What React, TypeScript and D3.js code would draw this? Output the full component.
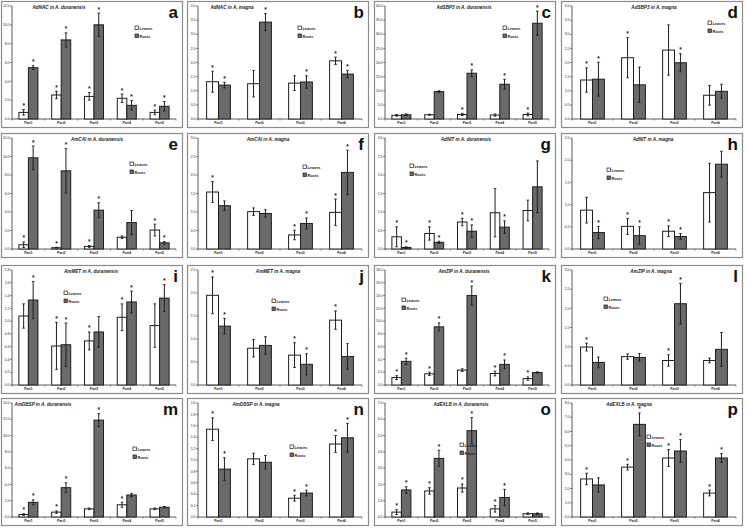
import React from "react";
import * as d3 from "d3";

const partsDur = ["Part1", "Part2", "Part3", "Part4", "Part5"];
const partsMag = ["Part1", "Part2", "Part3", "Part4"];
const seriesNames = ["Leaves", "Roots"];

const genes = ["AdNAC", "AdNAC", "AdSBP3", "AdSBP3", "AmCAI", "AmCAI", "AdNIT", "AdNIT", "AmMET", "AmMET", "AmZIP", "AmZIP", "AmDBSP", "AmDBSP", "AdEXLB", "AdEXLB"];
const species = ["A. duranensis", "A. magna"];
const letters = ["a", "b", "c", "d", "e", "f", "g", "h", "i", "j", "k", "l", "m", "n", "o", "p"];

const yMaxes = [12, 4, 40, 4, 12, 3, 3, 2.5, 1.8, 2.5, 18, 3, 14, 2, 7, 8];
const ySteps = [2, 0.5, 5, 0.5, 2, 0.5, 0.5, 0.5, 0.2, 0.5, 2, 0.5, 2, 0.2, 1, 1];

const leavesA = [0.7, 2.55, 2.4, 2.2, 0.7];
const leavesErrA = [0.3, 0.4, 0.4, 0.45, 0.25];
const rootsA = [5.45, 8.4, 10.0, 1.45, 1.35];
const rootsErrA = [0.2, 0.75, 1.25, 0.5, 0.5];
const starsLA = [1, 1, 1, 1, 1];
const starsRA = [1, 1, 1, 1, 1];

const leavesB = [1.32, 1.25, 1.27, 2.06];
const leavesErrB = [0.37, 0.47, 0.26, 0.13];
const rootsB = [1.2, 3.43, 1.31, 1.59];
const rootsErrB = [0.1, 0.3, 0.22, 0.13];
const starsLB = [1, 0, 0, 1];
const starsRB = [1, 1, 1, 1];

const leavesC = [1.3, 1.5, 1.6, 1.4, 1.6];
const leavesErrC = [0.3, 0.2, 0.4, 0.4, 0.5];
const rootsC = [1.5, 9.7, 16.2, 12.3, 33.9];
const rootsErrC = [0.3, 0.3, 1.2, 1.75, 4.3];
const starsLC = [0, 0, 1, 0, 1];
const starsRC = [0, 0, 1, 1, 1];

const leavesD = [1.38, 2.17, 2.44, 0.84];
const leavesErrD = [0.43, 0.71, 0.89, 0.35];
const rootsD = [1.41, 1.21, 1.99, 0.98];
const rootsErrD = [0.6, 0.63, 0.32, 0.25];
const starsLD = [1, 1, 0, 0];
const starsRD = [1, 0, 1, 0];

const leavesE = [0.46, 0.14, 0.28, 1.27, 2.05];
const leavesErrE = [0.3, 0.05, 0.1, 0.14, 0.64];
const rootsE = [9.86, 8.45, 4.2, 2.86, 0.67];
const rootsErrE = [1.27, 2.4, 0.8, 1.3, 0.14];
const starsLE = [1, 1, 1, 0, 1];
const starsRE = [1, 1, 1, 0, 1];

const leavesF = [1.54, 1.01, 0.38, 0.99];
const leavesErrF = [0.28, 0.1, 0.13, 0.36];
const rootsF = [1.17, 0.96, 0.69, 2.07];
const rootsErrF = [0.13, 0.1, 0.15, 0.6];
const starsLF = [1, 0, 1, 1];
const starsRF = [0, 0, 1, 1];

const leavesG = [0.33, 0.42, 0.73, 0.98, 1.04];
const leavesErrG = [0.27, 0.18, 0.1, 0.65, 0.28];
const rootsG = [0.04, 0.18, 0.48, 0.59, 1.68];
const rootsErrG = [0.02, 0.03, 0.17, 0.17, 0.7];
const starsLG = [1, 1, 1, 0, 0];
const starsRG = [1, 1, 1, 1, 0];

const leavesH = [0.875, 0.51, 0.4, 1.27];
const leavesErrH = [0.29, 0.18, 0.12, 0.66];
const rootsH = [0.37, 0.3, 0.28, 1.91];
const rootsErrH = [0.14, 0.2, 0.07, 0.29];
const starsLH = [0, 1, 1, 0];
const starsRH = [1, 1, 1, 0];

const leavesI = [1.08, 0.61, 0.69, 1.06, 0.93];
const leavesErrI = [0.19, 0.37, 0.14, 0.21, 0.34];
const rootsI = [1.33, 0.63, 0.83, 1.3, 1.36];
const rootsErrI = [0.29, 0.34, 0.24, 0.17, 0.21];
const starsLI = [0, 1, 1, 1, 0];
const starsRI = [1, 1, 0, 1, 1];

const leavesJ = [1.95, 0.8, 0.65, 1.41];
const leavesErrJ = [0.4, 0.19, 0.27, 0.2];
const rootsJ = [1.28, 0.86, 0.45, 0.62];
const rootsErrJ = [0.17, 0.19, 0.23, 0.28];
const starsLJ = [1, 0, 1, 1];
const starsRJ = [1, 0, 1, 0];

const leavesK = [1.16, 1.75, 2.33, 1.8, 1.0];
const leavesErrK = [0.3, 0.26, 0.2, 0.37, 0.26];
const rootsK = [3.7, 9.1, 14.0, 3.23, 1.96];
const rootsErrK = [0.48, 0.63, 1.48, 0.69, 0.1];
const starsLK = [1, 1, 0, 1, 1];
const starsRK = [1, 1, 1, 1, 0];

const leavesL = [0.99, 0.74, 0.64, 0.64];
const leavesErrL = [0.1, 0.07, 0.15, 0.06];
const rootsL = [0.59, 0.72, 2.12, 0.93];
const rootsErrL = [0.14, 0.1, 0.53, 0.44];
const starsLL = [1, 0, 1, 0];
const starsRL = [0, 0, 1, 0];

const leavesM = [0.3, 0.6, 1.0, 1.5, 1.0];
const leavesErrM = [0.1, 0.15, 0.1, 0.3, 0.1];
const rootsM = [1.8, 3.6, 11.9, 2.7, 1.2];
const rootsErrM = [0.3, 0.6, 0.8, 0.2, 0.1];
const starsLM = [1, 1, 0, 1, 0];
const starsRM = [1, 1, 1, 0, 0];

const leavesN = [1.54, 1.02, 0.33, 1.28];
const leavesErrN = [0.2, 0.1, 0.05, 0.15];
const rootsN = [0.84, 0.96, 0.42, 1.39];
const rootsErrN = [0.2, 0.12, 0.05, 0.25];
const starsLN = [1, 0, 1, 1];
const starsRN = [1, 0, 1, 1];

const leavesO = [0.3, 1.6, 1.78, 0.5, 0.2];
const leavesErrO = [0.15, 0.2, 0.25, 0.2, 0.05];
const rootsO = [1.66, 3.6, 5.3, 1.2, 0.2];
const rootsErrO = [0.2, 0.5, 0.8, 0.5, 0.05];
const starsLO = [1, 1, 1, 1, 0];
const starsRO = [1, 1, 1, 1, 0];

const leavesP = [2.67, 3.5, 4.14, 1.68];
const leavesErrP = [0.4, 0.2, 0.6, 0.2];
const rootsP = [2.25, 6.5, 4.63, 4.14];
const rootsErrP = [0.5, 0.8, 0.8, 0.3];
const starsLP = [1, 1, 1, 1];
const starsRP = [0, 1, 1, 1];

const allLeaves = [leavesA, leavesB, leavesC, leavesD, leavesE, leavesF, leavesG, leavesH, leavesI, leavesJ, leavesK, leavesL, leavesM, leavesN, leavesO, leavesP];
const allLeavesErr = [leavesErrA, leavesErrB, leavesErrC, leavesErrD, leavesErrE, leavesErrF, leavesErrG, leavesErrH, leavesErrI, leavesErrJ, leavesErrK, leavesErrL, leavesErrM, leavesErrN, leavesErrO, leavesErrP];
const allRoots = [rootsA, rootsB, rootsC, rootsD, rootsE, rootsF, rootsG, rootsH, rootsI, rootsJ, rootsK, rootsL, rootsM, rootsN, rootsO, rootsP];
const allRootsErr = [rootsErrA, rootsErrB, rootsErrC, rootsErrD, rootsErrE, rootsErrF, rootsErrG, rootsErrH, rootsErrI, rootsErrJ, rootsErrK, rootsErrL, rootsErrM, rootsErrN, rootsErrO, rootsErrP];
const allStarsL = [starsLA, starsLB, starsLC, starsLD, starsLE, starsLF, starsLG, starsLH, starsLI, starsLJ, starsLK, starsLL, starsLM, starsLN, starsLO, starsLP];
const allStarsR = [starsRA, starsRB, starsRC, starsRD, starsRE, starsRF, starsRG, starsRH, starsRI, starsRJ, starsRK, starsRL, starsRM, starsRN, starsRO, starsRP];

// layout (not data)
const colX = [1, 187, 374, 561];
const rowY = [1, 133, 265, 398];
const rowH = [127, 125, 129, 128];
const panelW = 182;
const legendPos = [[134, 28], [111, 28], [129, 28], [147, 23], [129, 32], [116, 35], [36, 34], [46, 38], [63, 29], [85, 37], [28, 36], [43, 35], [132, 52], [103, 50], [86, 48], [86, 40]];
const titleX = [58, 45, 90, 93, 96, 81, 92, 92, 90, 91, 90, 90, 42, 69, 87, 68];

const LEAF_FILL = "#ffffff";
const ROOT_FILL = "#6a6a6a";
const INK = "#1e1e1e";

function Panel({ i }: { i: number }) {
  const col = i % 4;
  const row = Math.floor(i / 4);
  const x0 = colX[col];
  const y0 = rowY[row];
  const h = rowH[row];
  const w = panelW;
  const isMag = col % 2 === 1 && !(i === 6) ? true : false;
  const cats = allLeaves[i].length === 5 ? partsDur : partsMag;
  const sp = allLeaves[i].length === 5 ? species[0] : (col % 2 === 0 ? species[0] : species[1]);
  const left = 11, right = w - 7, top = 5, bottom = h - 9;
  const yMax = yMaxes[i];
  const step = ySteps[i];
  const y = d3.scaleLinear().domain([0, yMax]).range([bottom, top]);
  const x = d3.scaleBand<string>().domain(cats).range([left, right]).paddingInner(0.42).paddingOuter(0.21);
  const sub = d3.scaleBand<string>().domain(seriesNames).range([0, x.bandwidth()]);
  const ticks = d3.range(0, yMax + step / 2, step);
  const fmt = d3.format(".1f");
  const leaves = allLeaves[i], lErr = allLeavesErr[i], roots = allRoots[i], rErr = allRootsErr[i];
  const sL = allStarsL[i], sR = allStarsR[i];
  const series = [
    { name: "Leaves", vals: leaves, errs: lErr, stars: sL, fill: LEAF_FILL },
    { name: "Roots", vals: roots, errs: rErr, stars: sR, fill: ROOT_FILL },
  ];
  const [lx, ly] = legendPos[i];
  void isMag;
  return (
    <g transform={`translate(${x0},${y0})`}>
      <rect x={0.5} y={0.5} width={w - 1} height={h - 1} fill="#fff" stroke="#8c8c8c" strokeWidth={1.2} />
      {/* y axis */}
      <line x1={left} x2={left} y1={top} y2={bottom} stroke="#333" strokeWidth={0.8} />
      <line x1={left} x2={right} y1={bottom} y2={bottom} stroke="#333" strokeWidth={0.8} />
      {ticks.map((t) => (
        <g key={t}>
          <line x1={left - 2} x2={left} y1={y(t)} y2={y(t)} stroke="#333" strokeWidth={0.6} />
          <text x={left - 2.5} y={y(t) + 1.2} fontSize={3.4} textAnchor="end" fontFamily="Liberation Sans, Arial" fill="#222">{fmt(t)}</text>
        </g>
      ))}
      {d3.range(cats.length + 1).map((k) => {
        const px = left + (k === cats.length ? right - left : x.step() * k + (x(cats[0]) as number) - x.step() * x.paddingInner() / 2 - left);
        const xx = k === 0 ? left : k === cats.length ? right : (x(cats[k]) as number) - (x.step() - x.bandwidth()) / 2;
        void px;
        return <line key={k} x1={xx} x2={xx} y1={bottom} y2={bottom + 1.5} stroke="#333" strokeWidth={0.6} />;
      })}
      {cats.map((c) => (
        <text key={c} x={(x(c) as number) + x.bandwidth() / 2} y={bottom + 5} fontSize={3.4} textAnchor="middle" fontFamily="Liberation Sans, Arial" fontWeight="bold" fill="#222">{c}</text>
      ))}
      {series.map((s) =>
        cats.map((c, k) => {
          const bx = (x(c) as number) + (sub(s.name) as number);
          const bw = sub.bandwidth();
          const v = s.vals[k];
          const e = s.errs[k];
          const cx = bx + bw / 2;
          const yt = y(v + e);
          const yb = y(Math.max(0, v - e));
          return (
            <g key={s.name + c}>
              <rect x={bx} y={y(v)} width={bw} height={bottom - y(v)} fill={s.fill} stroke={INK} strokeWidth={1} />
              <line x1={cx} x2={cx} y1={yt} y2={yb} stroke={INK} strokeWidth={1} />
              <line x1={cx - 1.3} x2={cx + 1.3} y1={yt} y2={yt} stroke={INK} strokeWidth={0.9} />
              <line x1={cx - 1.3} x2={cx + 1.3} y1={yb} y2={yb} stroke={INK} strokeWidth={0.9} />
              {s.stars[k] ? (
                <text x={cx} y={yt - 1.5} fontSize={6.5} textAnchor="middle" fontFamily="Liberation Sans, Arial" fontWeight="bold" fill={INK}>*</text>
              ) : null}
            </g>
          );
        })
      )}
      <text x={titleX[i]} y={8} fontSize={4.6} textAnchor="middle" fontStyle="italic" fontWeight="bold" fontFamily="Liberation Sans, Arial" fill="#222">
        {genes[i] + " in "}{sp}
      </text>
      <text x={w - 5} y={17} fontSize={17} textAnchor="end" fontWeight="bold" fontFamily="Liberation Sans, Arial" fill="#111">{letters[i]}</text>
      {seriesNames.map((n, k) => (
        <g key={n} transform={`translate(${lx},${ly + k * 8})`}>
          <rect x={0} y={-3} width={3.5} height={3.5} fill={k === 0 ? LEAF_FILL : ROOT_FILL} stroke={INK} strokeWidth={0.7} />
          <text x={4.5} y={0.5} fontSize={3.8} fontFamily="Liberation Sans, Arial" fontWeight="bold" fill="#222">{n}</text>
        </g>
      ))}
    </g>
  );
}

export default function App() {
  return (
    <svg width={746} height={529} style={{ position: "absolute", left: 0, top: 0, background: "#fff" }}>
      <rect width={746} height={529} fill="#fff" />
      {d3.range(16).map((i) => (
        <Panel key={i} i={i} />
      ))}
    </svg>
  );
}
